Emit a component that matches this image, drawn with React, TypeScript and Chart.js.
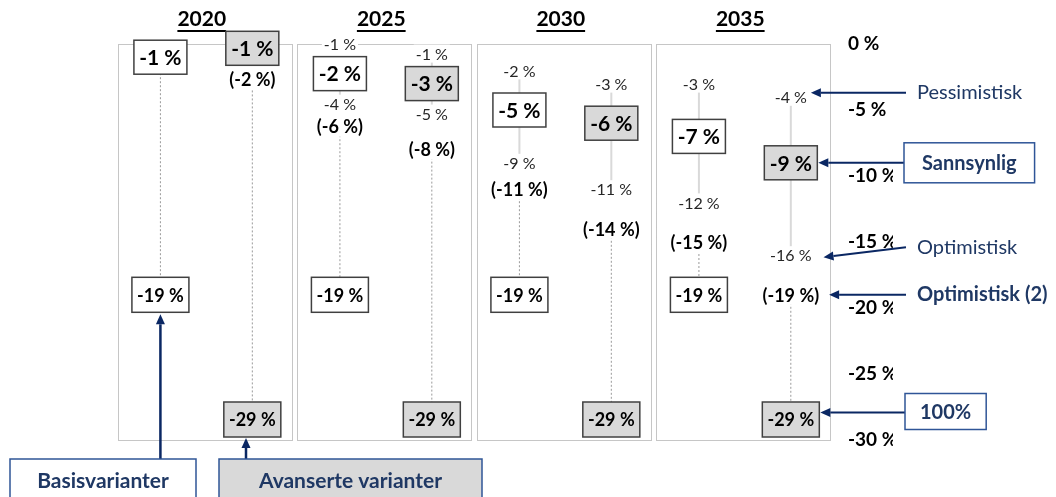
import React, { useEffect, useRef } from 'react';
import { Chart, registerables } from 'chart.js';
Chart.register(...registerables);

// ---------- data ----------
const years = ['2020', '2025', '2030', '2035'];
const yTicks = [0, -5, -10, -15, -20, -25, -30];
const seriesNames = ['Basisvarianter', 'Avanserte varianter'];

// Basisvarianter
const basicPess: (number | null)[] = [null, -1, -2, -3];
const basicCentral = [-1, -2, -5, -7];
const basicOpt: (number | null)[] = [null, -4, -9, -12];
const basicOpt2: (number | null)[] = [null, -6, -11, -15];
const basicFull = [-19, -19, -19, -19];

// Avanserte varianter
const advPess: (number | null)[] = [null, -1, -3, -4];
const advCentral = [-1, -3, -6, -9];
const advOpt: (number | null)[] = [null, -5, -11, -16];
const advOpt2: (number | null)[] = [-2, -8, -14, -19];
const advFull = [-29, -29, -29, -29];

const legendLabels = ['Pessimistisk', 'Sannsynlig', 'Optimistisk', 'Optimistisk (2)', '100%'];

// ---------- styling ----------
const FONT = 'Lato, "Open Sans", sans-serif';
const NAVY = '#1F3864';
const ARROW = '#0A2763';
const BOXNAVY = '#2F5597';
const OFFSETS = [-0.247, 0.265];
const SMALL_FONT = `16px ${FONT}`;
const BRACKET_FONT = `bold 18px ${FONT}`;

type Item = { role: string; value: number; text: string; h: number; y: number };

function seriesFor(s: number) {
  return s === 0
    ? { pess: basicPess, central: basicCentral, opt: basicOpt, opt2: basicOpt2, full: basicFull }
    : { pess: advPess, central: advCentral, opt: advOpt, opt2: advOpt2, full: advFull };
}

function layoutColumn(s: number, i: number, yScale: any, bottom: number): Item[] {
  const d = seriesFor(s);
  const items: Item[] = [];
  const p = d.pess[i], o = d.opt[i], o2 = d.opt2[i];
  if (p != null) items.push({ role: 'pess', value: p, text: `${p} %`, h: 18, y: 0 });
  items.push({ role: 'central', value: d.central[i], text: `${d.central[i]} %`, h: 34, y: 0 });
  if (o != null) items.push({ role: 'opt', value: o, text: `${o} %`, h: 18, y: 0 });
  if (o2 != null) items.push({ role: 'opt2', value: o2, text: `(${o2} %)`, h: 20, y: 0 });
  items.push({ role: 'full', value: d.full[i], text: `${d.full[i]} %`, h: 35, y: 0 });
  items.forEach((it) => (it.y = yScale.getPixelForValue(it.value)));
  const gap = 4;
  for (let iter = 0; iter < 200; iter++) {
    for (let k = 1; k < items.length; k++) {
      const a = items[k - 1], b = items[k];
      const need = (a.h + b.h) / 2 + gap;
      const dd = b.y - a.y;
      if (dd < need) {
        const sh = (need - dd) / 2;
        a.y -= sh;
        b.y += sh;
      }
    }
    const last = items[items.length - 1];
    if (last.y + last.h / 2 > bottom - 3) last.y = bottom - 3 - last.h / 2;
  }
  return items;
}

function drawArrow(ctx: CanvasRenderingContext2D, x1: number, y1: number, x2: number, y2: number, lw = 2) {
  const ang = Math.atan2(y2 - y1, x2 - x1);
  const hl = 10, hw = 4.5;
  const bx = x2 - hl * Math.cos(ang), by = y2 - hl * Math.sin(ang);
  ctx.save();
  ctx.strokeStyle = ARROW;
  ctx.fillStyle = ARROW;
  ctx.lineWidth = lw;
  ctx.beginPath();
  ctx.moveTo(x1, y1);
  ctx.lineTo(bx, by);
  ctx.stroke();
  ctx.beginPath();
  ctx.moveTo(x2, y2);
  ctx.lineTo(bx - hw * Math.sin(ang), by + hw * Math.cos(ang));
  ctx.lineTo(bx + hw * Math.sin(ang), by - hw * Math.cos(ang));
  ctx.closePath();
  ctx.fill();
  ctx.restore();
}

function boxText(ctx: CanvasRenderingContext2D, cx: number, cy: number, w: number, h: number, text: string, font: string, fill: string, stroke: string, color: string, lw = 1.5) {
  ctx.save();
  ctx.fillStyle = fill;
  ctx.fillRect(cx - w / 2, cy - h / 2, w, h);
  ctx.strokeStyle = stroke;
  ctx.lineWidth = lw;
  ctx.strokeRect(cx - w / 2, cy - h / 2, w, h);
  ctx.font = font;
  ctx.fillStyle = color;
  ctx.textAlign = 'center';
  ctx.textBaseline = 'middle';
  ctx.fillText(text, cx, cy + 1);
  ctx.restore();
}

const decorPlugin = {
  id: 'decor',
  beforeDatasetsDraw(chart: any) {
    const { ctx, chartArea, scales } = chart;
    const xs = scales.x;
    ctx.save();
    ctx.strokeStyle = '#8c8c8c';
    ctx.lineWidth = 1;
    ctx.setLineDash([1, 1]);
    years.forEach((_, i) => {
      const l = xs.getPixelForValue(i - 0.485);
      const r = xs.getPixelForValue(i + 0.485);
      ctx.strokeRect(Math.round(l) + 0.5, Math.round(chartArea.top) + 0.5, Math.round(r - l), Math.round(chartArea.bottom - chartArea.top));
    });
    ctx.restore();
  },
  afterDatasetsDraw(chart: any) {
    const { ctx, chartArea, scales } = chart;
    const xs = scales.x, ys = scales.y;
    // year headers
    ctx.save();
    ctx.font = `bold 21px ${FONT}`;
    ctx.fillStyle = '#000';
    ctx.textAlign = 'center';
    ctx.textBaseline = 'middle';
    years.forEach((y, i) => {
      const cx = xs.getPixelForValue(i) - 3;
      ctx.fillText(y, cx, 19);
      const w = ctx.measureText(y).width;
      ctx.fillRect(cx - w / 2, 30, w, 2);
    });
    ctx.restore();

    const layouts: Item[][][] = [[], []];
    for (let s = 0; s < 2; s++) {
      years.forEach((_, i) => {
        const cx = xs.getPixelForValue(i + OFFSETS[s]);
        const items = layoutColumn(s, i, ys, chartArea.bottom);
        layouts[s][i] = items;
        items.forEach((it) => {
          if (it.role === 'central') {
            boxText(ctx, cx, it.y, 53, it.h, it.text, `bold 21px ${FONT}`, s === 0 ? '#ffffff' : '#d9d9d9', '#404040', '#000');
          } else if (it.role === 'full') {
            boxText(ctx, cx, it.y, 57, it.h, it.text, `bold 18px ${FONT}`, s === 0 ? '#ffffff' : '#d9d9d9', '#404040', '#000');
          } else {
            ctx.save();
            ctx.font = it.role === 'opt2' ? BRACKET_FONT : SMALL_FONT;
            const w = ctx.measureText(it.text).width;
            ctx.fillStyle = '#ffffff';
            ctx.fillRect(cx - w / 2 - 2, it.y - it.h / 2, w + 4, it.h);
            ctx.fillStyle = it.role === 'opt2' ? '#000' : '#262626';
            ctx.textAlign = 'center';
            ctx.textBaseline = 'middle';
            ctx.fillText(it.text, cx, it.y + 1);
            ctx.restore();
          }
        });
      });
    }

    // right-hand legend annotations pointing at the last advanced column
    const lastIdx = years.length - 1;
    const col = layouts[1][lastIdx];
    const cx = xs.getPixelForValue(lastIdx + OFFSETS[1]);
    const find = (r: string) => col.find((it) => it.role === r)!;
    const textW = (t: string, f: string) => { ctx.save(); ctx.font = f; const w = ctx.measureText(t).width; ctx.restore(); return w; };
    const tailX = 906;
    const textX = 917;
    const regular = `20px ${FONT}`;
    const bold = `bold 20px ${FONT}`;
    const plainText = (t: string, y: number, f: string) => {
      ctx.save();
      ctx.font = f;
      ctx.fillStyle = NAVY;
      ctx.textAlign = 'left';
      ctx.textBaseline = 'middle';
      ctx.fillText(t, textX, y);
      ctx.restore();
    };
    // Pessimistisk
    {
      const it = find('pess');
      const tipX = cx + textW(it.text, SMALL_FONT) / 2 + 4;
      const ty = it.y - 4;
      drawArrow(ctx, tailX, ty, tipX, ty);
      plainText(legendLabels[0], ty, regular);
    }
    // Sannsynlig
    {
      const it = find('central');
      const tipX = cx + 53 / 2 + 1;
      const ty = it.y;
      drawArrow(ctx, tailX - 2, ty, tipX, ty);
      const w = textW(legendLabels[1], bold) + 36;
      boxText(ctx, tailX - 2 + w / 2, ty, w, 40, legendLabels[1], bold, '#ffffff', BOXNAVY, NAVY);
    }
    // Optimistisk
    {
      const it = find('opt');
      const tipX = cx + textW(it.text, SMALL_FONT) / 2 + 12;
      const ty = it.y + 2;
      drawArrow(ctx, tailX, ty - 10, tipX, ty);
      plainText(legendLabels[2], ty - 10, regular);
    }
    // Optimistisk (2)
    {
      const it = find('opt2');
      const tipX = cx + textW(it.text, BRACKET_FONT) / 2 + 10;
      const ty = it.y;
      drawArrow(ctx, tailX, ty, tipX, ty);
      plainText(legendLabels[3], ty, bold);
    }
    // 100%
    {
      const it = find('full');
      const tipX = cx + 57 / 2 + 1;
      const ty = it.y - 7;
      drawArrow(ctx, tailX - 1, ty, tipX, ty);
      const w = textW(legendLabels[4], bold) + 30;
      boxText(ctx, tailX - 1 + w / 2, ty - 1, w, 36, legendLabels[4], bold, '#ffffff', BOXNAVY, NAVY);
    }

    // bottom series boxes
    {
      const b0 = layouts[0][0].find((it) => it.role === 'full')!;
      const x0 = xs.getPixelForValue(0 + OFFSETS[0]);
      drawArrow(ctx, x0, 459, x0, b0.y + b0.h / 2 + 2, 2.5);
      boxText(ctx, 103, 480, 186, 42, seriesNames[0], `bold 21px ${FONT}`, '#ffffff', BOXNAVY, NAVY);
      const b1 = layouts[1][0].find((it) => it.role === 'full')!;
      drawArrow(ctx, 246, 459, 246, b1.y + b1.h / 2 + 1, 2.5);
      boxText(ctx, 350.5, 480, 263, 42, seriesNames[1], `bold 21px ${FONT}`, '#d9d9d9', BOXNAVY, NAVY);
    }
  },
};

function buildDatasets() {
  const ds: any[] = [];
  for (let s = 0; s < 2; s++) {
    const d = seriesFor(s);
    years.forEach((_, i) => {
      const x = i + OFFSETS[s];
      const p = d.pess[i], o = d.opt[i], o2 = d.opt2[i];
      if (p != null && o != null) {
        ds.push({
          data: [{ x, y: p }, { x, y: o }],
          showLine: true, pointRadius: 0, borderColor: '#d9d9d9', borderWidth: 2,
        });
      }
      const start = o2 != null ? o2 : d.central[i];
      ds.push({
        data: [{ x, y: start }, { x, y: d.full[i] }],
        showLine: true, pointRadius: 0, borderColor: '#9a9a9a', borderWidth: 1, borderDash: [2, 2],
      });
    });
  }
  return ds;
}

export default function App() {
  const ref = useRef<HTMLCanvasElement>(null);
  useEffect(() => {
    if (!ref.current) return;
    const chart = new Chart(ref.current, {
      type: 'scatter',
      data: { datasets: buildDatasets() },
      options: {
        animation: false,
        responsive: false,
        devicePixelRatio: 1,
        events: [],
        layout: { padding: { left: 115, right: 163, top: 44, bottom: 57 } },
        plugins: { legend: { display: false }, tooltip: { enabled: false }, title: { display: false } },
        scales: {
          x: { type: 'linear', display: false, min: -0.5, max: 3.5 },
          y: {
            type: 'linear',
            position: 'right',
            min: -30,
            max: 0,
            afterFit: (s: any) => { s.width = 60; },
            afterBuildTicks: (s: any) => { s.ticks = yTicks.map((v) => ({ value: v })); },
            grid: { display: false, drawTicks: false },
            border: { display: false },
            ticks: {
              padding: 15,
              color: '#000',
              font: { family: FONT, size: 19, weight: 'bold' },
              callback: (v: any) => `${v} %`,
            },
          },
        },
      } as any,
      plugins: [decorPlugin],
    });
    return () => chart.destroy();
  }, []);
  return (
    <div style={{ position: 'absolute', left: 0, top: 0, width: 1056, height: 497, background: '#fff' }}>
      <canvas ref={ref} width={1056} height={497} style={{ display: 'block' }} />
    </div>
  );
}
